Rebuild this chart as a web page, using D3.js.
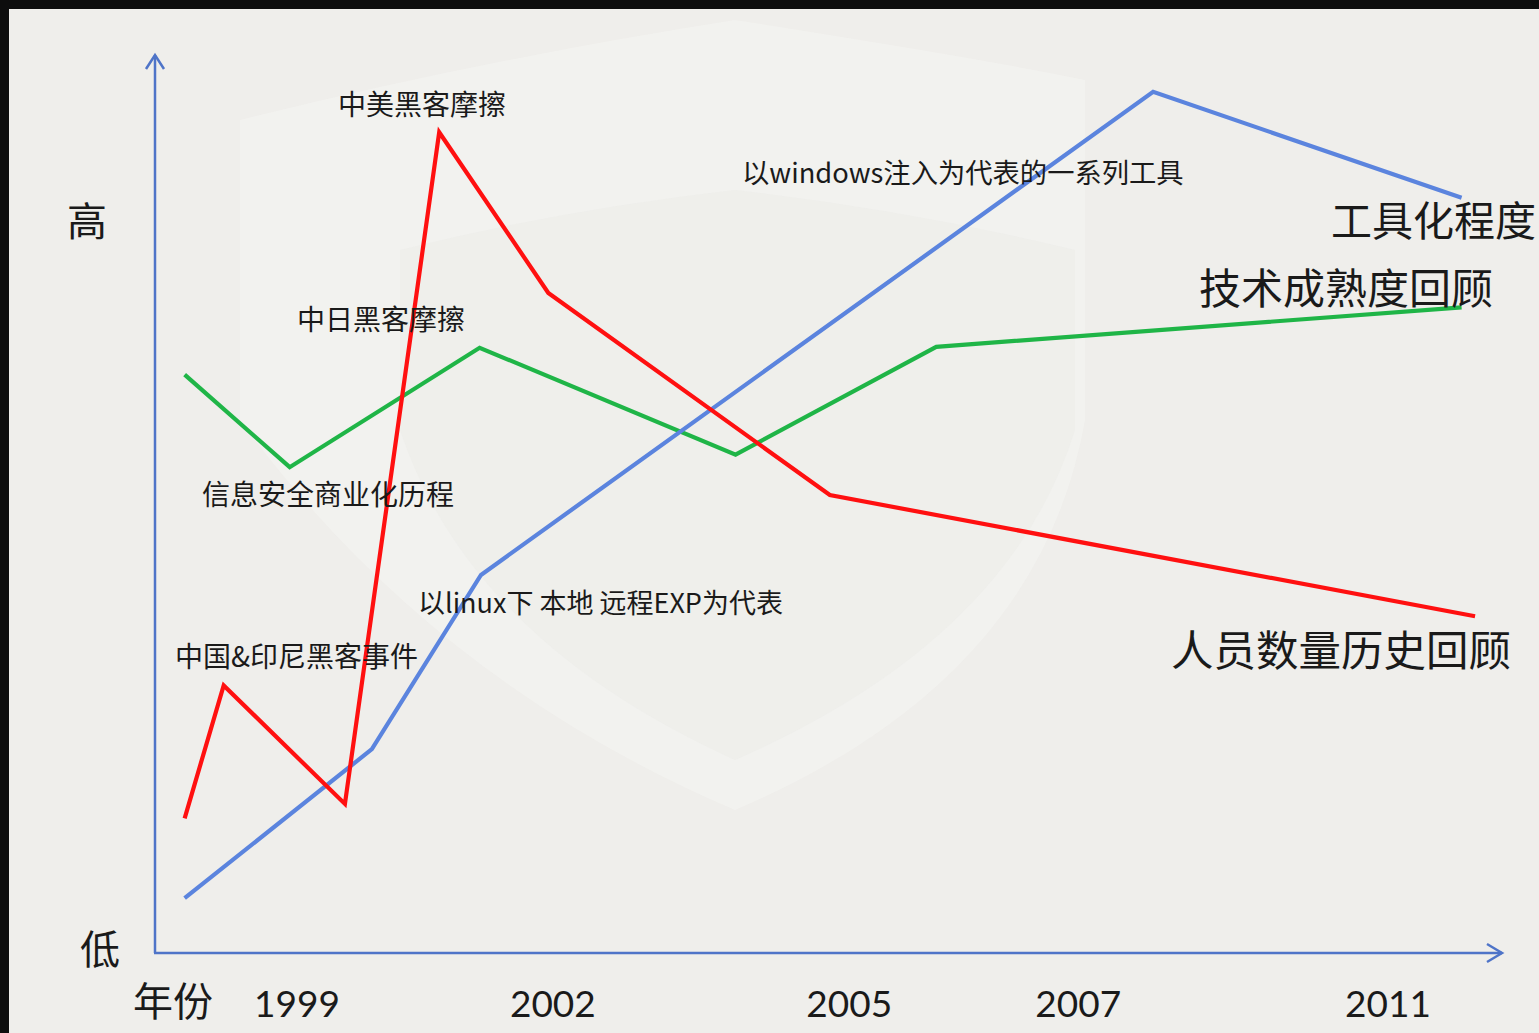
<!DOCTYPE html>
<html>
<head>
<meta charset="utf-8">
<script src="https://cdn.jsdelivr.net/npm/d3@7"></script>
<style>
  html, body { margin: 0; padding: 0; background: #0c0c0c; }
  svg { display: block; }
</style>
</head>
<body>
<div id="chart"></div>
<script>
// DATA (x = position along the time axis 0-100, y = level 0-100)
var peopleX = [2.2, 5.1, 14.1, 21.1, 29.2, 50.1, 98.0];
var peopleY = [15.0, 29.8, 16.6, 91.4, 73.5, 51.0, 37.5];
var toolX = [2.2, 16.1, 24.2, 74.1, 97.0];
var toolY = [6.1, 22.7, 42.1, 95.9, 84.1];
var techX = [2.2, 10.0, 24.1, 43.1, 58.0, 97.0];
var techY = [64.4, 54.1, 67.4, 55.5, 67.5, 71.9];
var yearTicks = [10.5, 29.5, 51.5, 68.5, 91.5];
var yearLabels = ["1999", "2002", "2005", "2007", "2011"];

var width = 1539;
var height = 1033;
var cjk = "'Noto Sans CJK SC', 'Noto Sans', sans-serif";

var svg = d3.select("#chart")
      .append("svg")
      .attr("width", width)
      .attr("height", height);

// dark frame + page
svg.append("rect").attr("width", width).attr("height", height).attr("fill", "#0d0d0d");
svg.append("rect")
   .attr("x", 9).attr("y", 9)
   .attr("width", width - 9).attr("height", height - 9)
   .attr("fill", "#efeeeb");

// faint shield watermark
svg.append("path")
   .attr("d", "M240,120 Q480,60 735,20 Q990,60 1085,80 L1085,420 Q1040,680 735,810 Q430,680 240,420 Z")
   .attr("fill", "#f4f3f1")
   .attr("opacity", 0.7);
svg.append("path")
   .attr("d", "M400,250 Q560,210 735,190 Q910,210 1075,250 L1075,430 Q1010,640 735,760 Q470,640 400,430 Z")
   .attr("fill", "#ecebe8")
   .attr("opacity", 0.5);

var xScale = d3.scaleLinear().domain([0, 100]).range([155, 1502]);
var yScale = d3.scaleLinear().domain([0, 100]).range([953, 55]);

var axisColor = "#4f74c8";

// axes with arrows
svg.append("line")
   .attr("x1", xScale(0)).attr("x2", xScale(0))
   .attr("y1", yScale(0)).attr("y2", yScale(100))
   .attr("stroke", axisColor).attr("stroke-width", 2.5);
svg.append("path")
   .attr("d", "M" + (xScale(0) - 9) + "," + (yScale(100) + 14) + " L" + xScale(0) + "," + yScale(100) + " L" + (xScale(0) + 9) + "," + (yScale(100) + 14))
   .attr("fill", "none").attr("stroke", axisColor).attr("stroke-width", 2.5);

svg.append("line")
   .attr("x1", xScale(0) - 1).attr("x2", xScale(100))
   .attr("y1", yScale(0)).attr("y2", yScale(0))
   .attr("stroke", axisColor).attr("stroke-width", 2.5);
svg.append("path")
   .attr("d", "M" + (xScale(100) - 15) + "," + (yScale(0) - 9) + " L" + xScale(100) + "," + yScale(0) + " L" + (xScale(100) - 15) + "," + (yScale(0) + 9))
   .attr("fill", "none").attr("stroke", axisColor).attr("stroke-width", 2.5);

// year ticks
var xAxis = d3.axisBottom(xScale)
      .tickValues(yearTicks)
      .tickSize(0)
      .tickPadding(0)
      .tickFormat(function(d, i) { return yearLabels[i]; });
var gx = svg.append("g")
   .attr("transform", "translate(0," + 1017 + ")")
   .call(xAxis);
gx.select(".domain").remove();
gx.selectAll("text")
  .attr("dy", 0)
  .attr("font-family", "Lato, 'Open Sans', sans-serif")
  .attr("font-size", "37px")
  .attr("fill", "#1a1a1a");

// axis words
function addText(txt, x, y, size, anchor) {
  svg.append("text")
     .attr("x", x).attr("y", y)
     .attr("font-family", cjk)
     .attr("font-size", size + "px")
     .attr("text-anchor", anchor || "start")
     .attr("fill", "#1a1a1a")
     .text(txt);
}
addText("高", 67, 236, 40);
addText("低", 80, 964, 40);
addText("年份", 133, 1016, 40);

// series
var line = d3.line()
      .x(function(d) { return xScale(d[0]); })
      .y(function(d) { return yScale(d[1]); });

var series = [
  {x: techX, y: techY, color: "#1fb547"},
  {x: toolX, y: toolY, color: "#5b84de"},
  {x: peopleX, y: peopleY, color: "#ff1010"}
];

svg.selectAll("path.series")
   .data(series)
   .enter()
   .append("path")
   .attr("class", "series")
   .attr("d", function(s) { return line(d3.zip(s.x, s.y)); })
   .attr("fill", "none")
   .attr("stroke", function(s) { return s.color; })
   .attr("stroke-width", 4.2)
   .attr("stroke-linejoin", "miter");

// annotations
addText("中美黑客摩擦", 338, 115, 28);
addText("以windows注入为代表的一系列工具", 742, 183, 27.3);
addText("中日黑客摩擦", 297, 330, 28);
addText("信息安全商业化历程", 202, 505, 28);
addText("以linux下 本地 远程EXP为代表", 418, 613, 27);
addText("中国&印尼黑客事件", 175, 667, 28);

// series names
addText("工具化程度", 1331, 236, 41);
addText("技术成熟度回顾", 1199, 304, 42);
addText("人员数量历史回顾", 1171, 666, 42.5);
</script>
</body>
</html>
